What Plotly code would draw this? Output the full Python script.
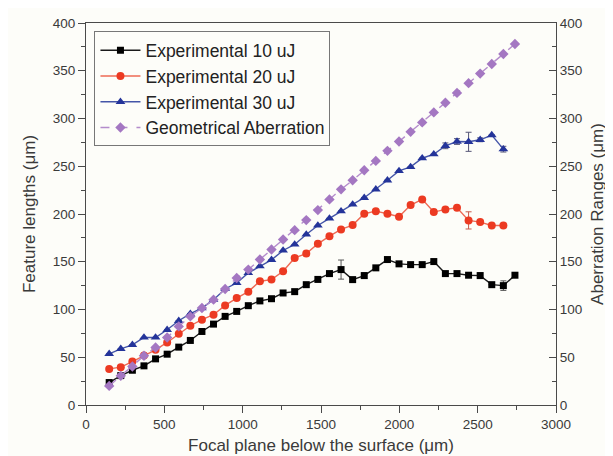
import plotly.graph_objects as go

# x positions (focal plane below surface, um)
x_vals = [148 + 74 * k for k in range(36)]

y_10uJ = [23.5, 30.8, 36.4, 41, 48.3, 53.2, 60.6, 67.6, 77, 84.7, 92.8, 98, 104, 109,
          111.3, 117.3, 118.7, 126, 131.5, 137.6, 141.8, 131.3, 135.5, 143.6, 152.3,
          147.8, 147, 147, 150.2, 137.6, 137.6, 135.9, 135.5, 126, 125, 135.9]
err_10uJ = [0, 0, 0, 0, 0, 0, 0, 0, 0, 0, 0, 0, 0, 0, 0, 0, 0, 0, 0, 2, 10, 2, 3, 0, 0,
            0, 0, 0, 0, 0, 0, 0, 3, 0, 5, 2]

y_20uJ = [37.8, 39.6, 45.5, 51.8, 57.8, 65.5, 74.6, 83, 89.3, 94.5, 104.3, 112, 118.7,
          129.6, 131.3, 140, 154, 158.6, 168.8, 176.8, 183.8, 188.4, 200.3, 203, 200.3,
          197.1, 209.4, 215.3, 202, 204.8, 206.6, 193.3, 191.5, 188, 188]
err_20uJ = [0] * 31 + [9, 2, 0, 0]

y_30uJ = [53.6, 58.8, 63, 70.7, 70.7, 78.8, 88.2, 95.6, 101.5, 110.3, 121.5, 127.8,
          138.3, 145.3, 152, 161.8, 168.1, 178.6, 188, 195.4, 203, 210, 217, 225.8,
          235.3, 245.1, 249.3, 258.4, 262.6, 271.4, 275.9, 275.6, 277.7, 282.6, 267.9]
err_30uJ = [0] * 29 + [3, 3, 10, 2, 0, 3]

y_geo = [20, 30.5, 40.3, 51.5, 60.2, 70.7, 82.3, 92.8, 101.5, 110.3, 121.5, 133, 141.8,
         152.3, 162.8, 173.3, 183.1, 193.6, 204.1, 215.3, 225.8, 235.3, 245.8, 255.6,
         266.1, 275.9, 286, 295.9, 306.4, 316.5, 326.8, 337, 347, 357, 367.6, 378]

x_ticks = [0, 500, 1000, 1500, 2000, 2500, 3000]
y_ticks = [0, 50, 100, 150, 200, 250, 300, 350, 400]

FONT = "Liberation Sans, Arial, sans-serif"
AX = "#4a4a4a"
TXT = "#3a3a3a"

fig = go.Figure()
fig.add_trace(go.Scatter(
    x=x_vals, y=y_10uJ, name="Experimental 10 uJ", mode="lines+markers",
    line=dict(color="#1a1a1a", width=1.4),
    marker=dict(symbol="square", size=7, color="#000000"),
    error_y=dict(type="data", array=err_10uJ, color="#555555", thickness=1, width=3)))
fig.add_trace(go.Scatter(
    x=x_vals[:35], y=y_20uJ, name="Experimental 20 uJ", mode="lines+markers",
    line=dict(color="#ee6a55", width=1.4),
    marker=dict(symbol="circle", size=8, color="#ec3a22"),
    error_y=dict(type="data", array=err_20uJ, color="#c85a4a", thickness=1, width=3)))
fig.add_trace(go.Scatter(
    x=x_vals[:35], y=y_30uJ, name="Experimental 30 uJ", mode="lines+markers",
    line=dict(color="#4455a8", width=1.4),
    marker=dict(symbol="triangle-up", size=8.5, color="#24349a"),
    error_y=dict(type="data", array=err_30uJ, color="#555577", thickness=1, width=3)))
fig.add_trace(go.Scatter(
    x=x_vals, y=y_geo, name="Geometrical Aberration", mode="lines+markers",
    line=dict(color="#b48ccc", width=1.4, dash="dash"),
    marker=dict(symbol="diamond", size=8, color="#a477c2"),
    yaxis="y2"))

fig.update_layout(
    width=613, height=456,
    margin=dict(l=78, r=65, t=15, b=59, autoexpand=False),
    paper_bgcolor="#fdfdf9", plot_bgcolor="#fdfdf9",
    font=dict(family=FONT, color=TXT, size=13.5),
    showlegend=True,
    legend=dict(x=0.018, y=0.978, xanchor="left", yanchor="top",
                bordercolor="#777777", borderwidth=1, bgcolor="rgba(0,0,0,0)",
                font=dict(size=17.5, color="#222222"), tracegroupgap=0,
                itemwidth=40),
    xaxis=dict(range=[0, 3000], tickvals=x_ticks, ticks="outside", ticklen=7,
               tickcolor=AX, showline=True, linecolor=AX, linewidth=1.2, mirror=True,
               showgrid=False, zeroline=False, automargin=False,
               minor=dict(dtick=250, ticklen=4, ticks="outside", tickcolor=AX),
               title=dict(text="Focal plane below the surface (μm)", font=dict(size=17),
                          standoff=7)),
    yaxis=dict(range=[0, 400], tickvals=y_ticks, ticks="outside", ticklen=7,
               tickcolor=AX, showline=True, linecolor=AX, linewidth=1.2,
               showgrid=False, zeroline=False, automargin=False,
               minor=dict(dtick=25, ticklen=4, ticks="outside", tickcolor=AX),
               title=dict(text="Feature lengths (μm)", font=dict(size=17), standoff=12)),
    yaxis2=dict(range=[0, 400], tickvals=y_ticks, overlaying="y", side="right",
                ticks="inside", ticklen=7, tickcolor=AX, showline=True, linecolor=AX,
                linewidth=1.2, showgrid=False, zeroline=False, automargin=False,
                minor=dict(dtick=25, ticklen=4, ticks="inside", tickcolor=AX),
                title=dict(text="Aberration Ranges (μm)", font=dict(size=17), standoff=9)),
)

fig.write_html("out.html")
